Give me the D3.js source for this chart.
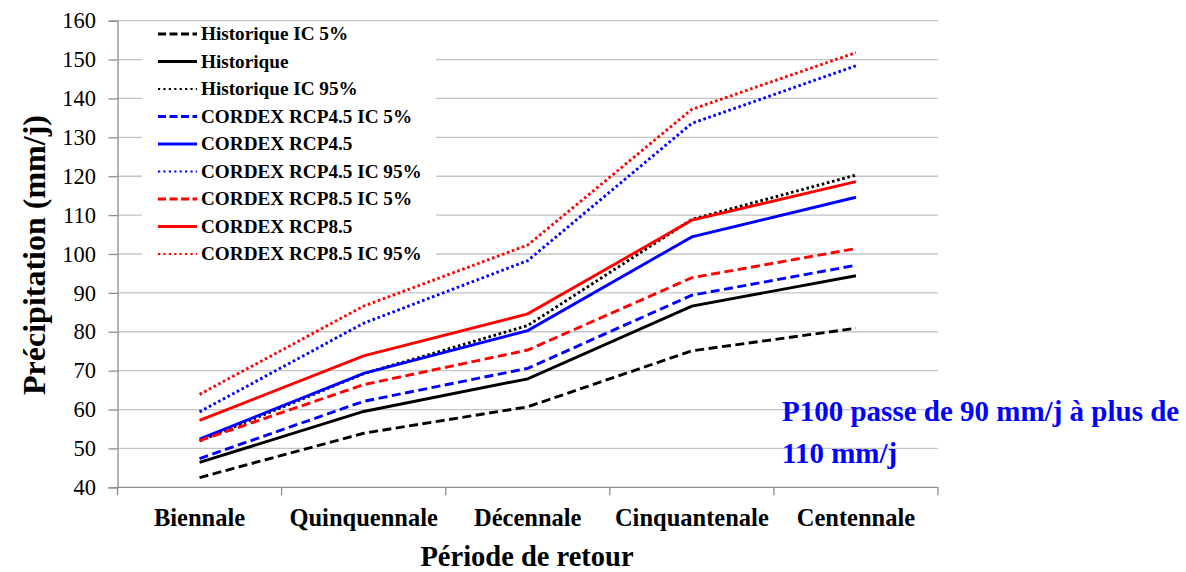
<!DOCTYPE html>
<html>
<head>
<meta charset="utf-8">
<script src="https://cdn.jsdelivr.net/npm/d3@7"></script>
<style>
  body { margin: 0; background: #fff; }
  text { font-family: "Liberation Serif", "Times New Roman", serif; }
</style>
</head>
<body>
<svg id="chart" width="1186" height="572"></svg>
<script>
// return periods
const periods = ["Biennale", "Quinquennale", "Décennale", "Cinquantenale", "Centennale"];
const yTicks = [40, 50, 60, 70, 80, 90, 100, 110, 120, 130, 140, 150, 160];

// series values (mm/j)
const histIC5    = [42.5, 53.9, 60.7, 75.1, 80.9];
const hist       = [46.4, 59.5, 67.9, 86.6, 94.4];
const histIC95   = [51.9, 69.2, 81.6, 108.9, 120.3];
const rcp45IC5   = [47.4, 62.1, 70.6, 89.4, 97.1];
const rcp45      = [52.4, 69.3, 80.3, 104.4, 114.6];
const rcp45IC95  = [59.4, 82.2, 98.3, 133.6, 148.4];
const rcp85IC5   = [52.0, 66.4, 75.3, 93.9, 101.4];
const rcp85      = [57.2, 73.8, 84.6, 108.7, 118.6];
const rcp85IC95  = [63.9, 86.6, 102.3, 137.2, 151.8];

const seriesNames = [
  "Historique IC 5%", "Historique", "Historique IC 95%",
  "CORDEX RCP4.5 IC 5%", "CORDEX RCP4.5", "CORDEX RCP4.5 IC 95%",
  "CORDEX RCP8.5 IC 5%", "CORDEX RCP8.5", "CORDEX RCP8.5 IC 95%"
];
const seriesValues = [histIC5, hist, histIC95, rcp45IC5, rcp45, rcp45IC95, rcp85IC5, rcp85, rcp85IC95];
const seriesColors = ["#000", "#000", "#000", "#0000ff", "#0000ff", "#0000ff", "#ff0000", "#ff0000", "#ff0000"];
const seriesKinds  = ["dash", "solid", "dot", "dash", "solid", "dot", "dash", "solid", "dot"];

const svg = d3.select("#chart");
const plotLeft = 117.5, plotRight = 938, plotTop = 20.7, plotBottom = 487.3;

const x = d3.scaleBand().domain(periods).range([plotLeft, plotRight]);
const y = d3.scaleLinear().domain([40, 160]).range([plotBottom, plotTop]);

// gridlines
svg.append("g")
  .selectAll("line")
  .data(yTicks.slice(1))
  .enter()
  .append("line")
  .attr("x1", plotLeft).attr("x2", plotRight)
  .attr("y1", d => y(d)).attr("y2", d => y(d))
  .style("stroke", "#c4c4c4")
  .style("stroke-width", 1.3);

// y axis
const yAxis = svg.append("g")
  .attr("transform", `translate(${plotLeft},0)`)
  .call(d3.axisLeft(y).tickValues(yTicks).tickSize(9).tickPadding(12.5));
yAxis.attr("font-family", "Liberation Serif").attr("font-size", 22.5);
yAxis.select(".domain").style("stroke", "#8c8c8c").style("stroke-width", 1.3);
yAxis.selectAll(".tick line").style("stroke", "#8c8c8c").style("stroke-width", 1.3);
yAxis.selectAll(".tick text")
  .style("font-size", "22.5px")
  .style("fill", "#000");

// x axis (ticks at band boundaries)
const xg = svg.append("g");
xg.append("line")
  .attr("x1", plotLeft).attr("x2", plotRight)
  .attr("y1", plotBottom).attr("y2", plotBottom)
  .style("stroke", "#8c8c8c").style("stroke-width", 1.3);
const bounds = periods.map(p => x(p)).concat([x(periods[periods.length - 1]) + x.bandwidth()]);
xg.selectAll(".xt")
  .data(bounds)
  .enter()
  .append("line")
  .attr("x1", d => d).attr("x2", d => d)
  .attr("y1", plotBottom).attr("y2", plotBottom + 8)
  .style("stroke", "#8c8c8c").style("stroke-width", 1.3);
xg.selectAll(".xl")
  .data(periods)
  .enter()
  .append("text")
  .attr("x", d => x(d) + x.bandwidth() / 2)
  .attr("y", 526)
  .attr("text-anchor", "middle")
  .style("font-size", "24.5px")
  .style("font-weight", "bold")
  .text(d => d);

// axis titles
svg.append("text")
  .attr("transform", "translate(45,255) rotate(-90)")
  .attr("text-anchor", "middle")
  .style("font-size", "32px")
  .style("font-weight", "bold")
  .text("Précipitation (mm/j)");

svg.append("text")
  .attr("x", 527).attr("y", 566)
  .attr("text-anchor", "middle")
  .style("font-size", "28.5px")
  .style("font-weight", "bold")
  .text("Période de retour");

function dashFor(kind) {
  if (kind === "dash") return "9,4.5";
  if (kind === "dot") return "2.6,2.7";
  return null;
}

// series lines
const line = d3.line()
  .x((d, i) => x(periods[i]) + x.bandwidth() / 2)
  .y(d => y(d));

// legend box (drawn before lines so gridlines are hidden behind it)
svg.append("rect")
  .attr("x", 142).attr("y", 23)
  .attr("width", 294).attr("height", 245)
  .style("fill", "#fff");

svg.append("g")
  .selectAll("path")
  .data(seriesValues)
  .enter()
  .append("path")
  .attr("d", d => line(d))
  .style("fill", "none")
  .style("stroke", (d, i) => seriesColors[i])
  .style("stroke-width", 2.9)
  .style("stroke-dasharray", (d, i) => dashFor(seriesKinds[i]));

// legend
const leg = svg.append("g");
const rowY = d3.range(seriesNames.length).map(i => 34 + i * 27.5);
leg.selectAll("line")
  .data(seriesNames)
  .enter()
  .append("line")
  .attr("x1", 158).attr("x2", 197)
  .attr("y1", (d, i) => rowY[i]).attr("y2", (d, i) => rowY[i])
  .style("stroke", (d, i) => seriesColors[i])
  .style("stroke-width", (d, i) => seriesKinds[i] === "dot" ? 2.2 : 2.8)
  .style("stroke-dasharray", (d, i) => seriesKinds[i] === "dash" ? "8,3.5" : (seriesKinds[i] === "dot" ? "2.2,3.2" : null));
leg.selectAll("text")
  .data(seriesNames)
  .enter()
  .append("text")
  .attr("x", 201)
  .attr("y", (d, i) => rowY[i] + 6)
  .style("font-size", "19.2px")
  .style("font-weight", "bold")
  .text(d => d);

// annotation
svg.append("text")
  .attr("x", 782).attr("y", 421)
  .style("font-size", "29px")
  .style("font-weight", "bold")
  .style("fill", "#0000ff")
  .text("P100 passe de 90 mm/j à plus de");
svg.append("text")
  .attr("x", 782).attr("y", 463)
  .style("font-size", "29px")
  .style("font-weight", "bold")
  .style("fill", "#0000ff")
  .text("110 mm/j");
</script>
</body>
</html>
